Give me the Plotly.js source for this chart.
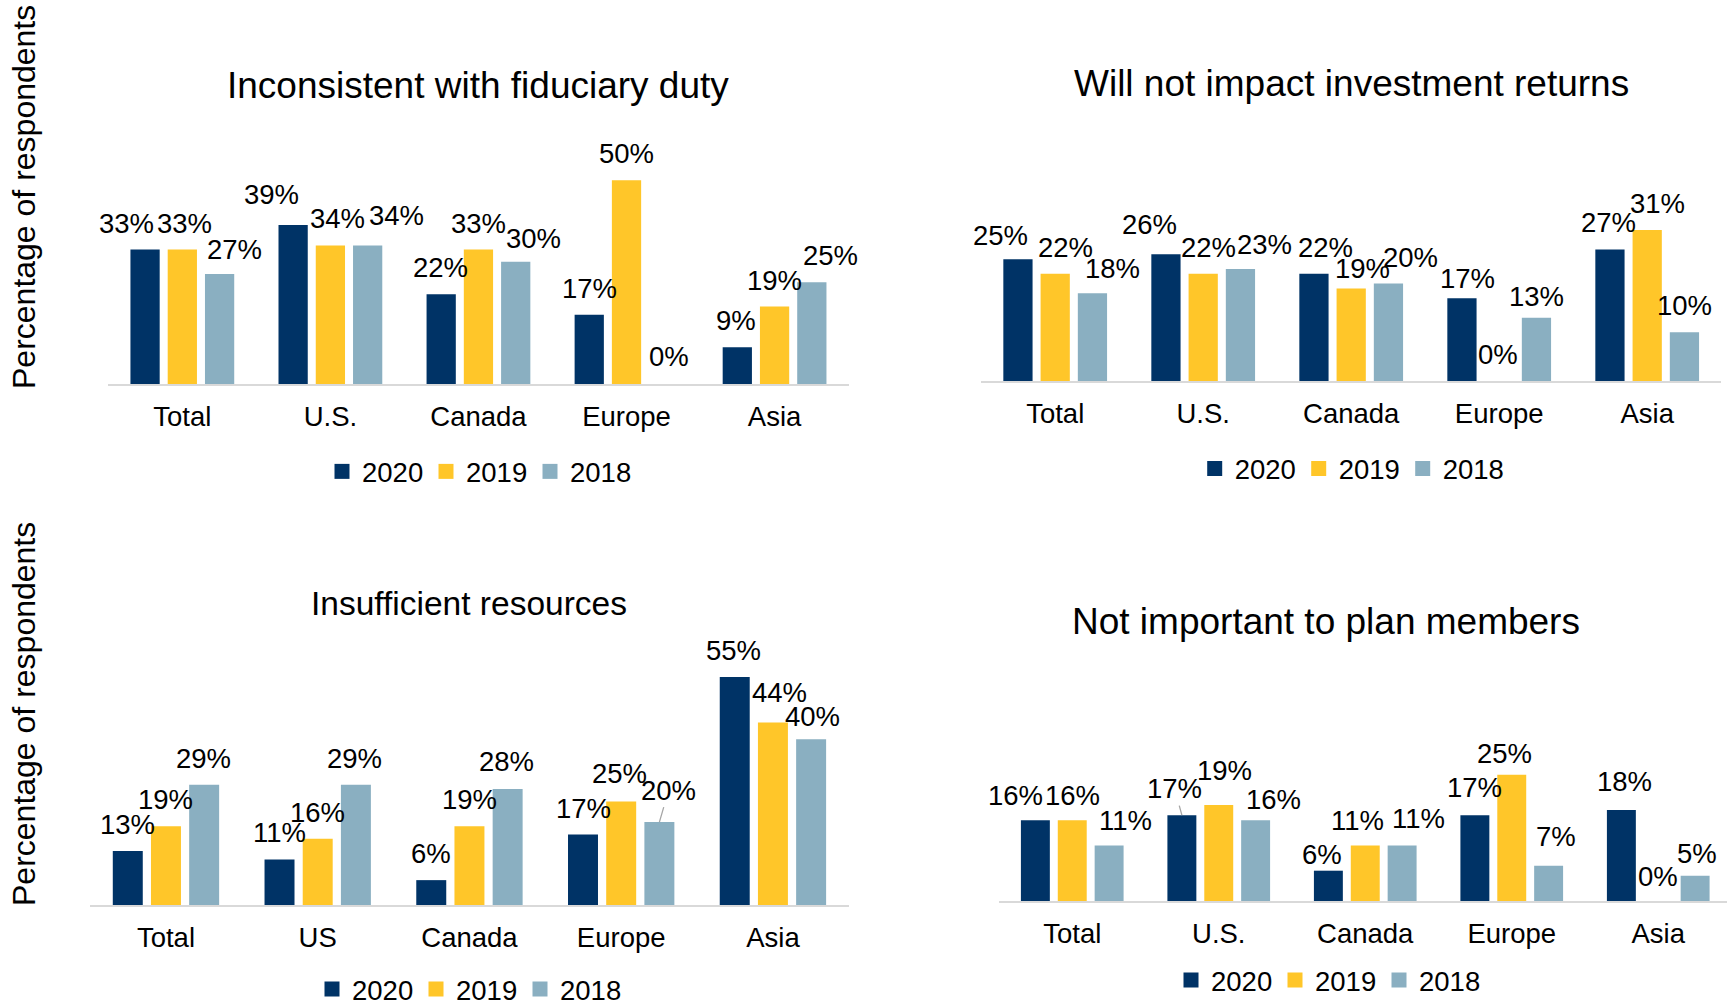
<!DOCTYPE html>
<html>
<head>
<meta charset="utf-8">
<script src="https://cdn.plot.ly/plotly-3.0.1.min.js"></script>
<style>
  html, body { margin: 0; padding: 0; background: #ffffff; }
  #chart { width: 1727px; height: 1006px; }
</style>
</head>
<body>
<div id="chart"></div>
<script>
// ---------------- DATA ----------------
const seriesNames = ['2020', '2019', '2018'];

const titleFiduciary = 'Inconsistent with fiduciary duty';
const catsFiduciary = ['Total', 'U.S.', 'Canada', 'Europe', 'Asia'];
const fiduciary2020 = [33, 39, 22, 17, 9];
const fiduciary2019 = [33, 34, 33, 50, 19];
const fiduciary2018 = [27, 34, 30, 0, 25];

const titleReturns = 'Will not impact investment returns';
const catsReturns = ['Total', 'U.S.', 'Canada', 'Europe', 'Asia'];
const returns2020 = [25, 26, 22, 17, 27];
const returns2019 = [22, 22, 19, 0, 31];
const returns2018 = [18, 23, 20, 13, 10];

const titleResources = 'Insufficient resources';
const catsResources = ['Total', 'US', 'Canada', 'Europe', 'Asia'];
const resources2020 = [13, 11, 6, 17, 55];
const resources2019 = [19, 16, 19, 25, 44];
const resources2018 = [29, 29, 28, 20, 40];

const titleMembers = 'Not important to plan members';
const catsMembers = ['Total', 'U.S.', 'Canada', 'Europe', 'Asia'];
const members2020 = [16, 17, 6, 17, 18];
const members2019 = [16, 19, 11, 25, 0];
const members2018 = [11, 16, 11, 7, 5];

const yAxisTitle = 'Percentage of respondents';

// ---------------- STYLE / LAYOUT ----------------
const seriesColors = ['#003366', '#FFC629', '#8AAFC1'];
const W = 1727, H = 1006;
const BARGAP = 0.245, GROUPGAP = 0.215;
const FONT = 'Arial, "Liberation Sans", Helvetica, sans-serif';
const TXT = 27.5;
const LABEL_DY = 26.5;

// label nudges in pixels [dx, extra dy up] per series (2020, 2019, 2018) per category
const nudgeFiduciary = [
  [[-19, 0], [-22, 4], [-1, 0], [0, 0], [-1, 0]],
  [[2, 0], [7.5, 0], [0, 0], [0, 0], [0, 0]],
  [[15, -2.5], [29, 3.5], [18, -3.5], [5, 1], [19, 0]]
];
const nudgeReturns = [
  [[-17.5, -3], [-16, 3], [11.5, 0], [6, -6.5], [-1.5, 0]],
  [[10, 0], [5.5, 0], [11, -6.5], [-1, 0], [10, 0]],
  [[20, -2], [24, -2], [22.5, 0], [0, -5.5], [0, 0]]
];
const nudgeResources = [
  [[0, 0], [0, 0], [0, 0], [0, 0], [-1, 0]],
  [[0, 0], [0, 0], [0, 0], [-2, 1], [6.5, 3.5]],
  [[-1, 0], [-1.5, 0], [-1, 1], [9.3, 5.5], [1, -4]]
];
const nudgeMembers = [
  [[-19.5, -1.5], [-7.3, 0], [-6, -10], [0, 1], [3, 2]],
  [[0, -1.5], [5.7, 8.5], [-7.5, -2], [-7.3, -5], [0, -2]],
  [[16.5, -2], [18.3, -5.5], [16.7, 0], [7, 2.5], [1.5, -4]]
];

const panels = [
  { cats: catsFiduciary, vals: [fiduciary2020, fiduciary2019, fiduciary2018],
    title: titleFiduciary, titleSize: 37, titleXY: [478, 85],
    xPx: [108.3, 848.6], yPx: [140, 384], ppu: 4.075, xRange: [-0.5, 4.5],
    legendLeft: 322, legendY: 471.5, yTitleXY: [24, 197],
    nudge: nudgeFiduciary, leaders: [] },
  { cats: catsReturns, vals: [returns2020, returns2019, returns2018],
    title: titleReturns, titleSize: 37, titleXY: [1351, 84],
    xPx: [981.2, 1721.2], yPx: [140, 381], ppu: 4.875, xRange: [-0.5, 4.5],
    legendLeft: 1194.7, legendY: 468.5, yTitleXY: null,
    nudge: nudgeReturns, leaders: [] },
  { cats: catsResources, vals: [resources2020, resources2019, resources2018],
    title: titleResources, titleSize: 33.5, titleXY: [468.6, 603.6],
    xPx: [90.1, 848.8], yPx: [640, 905], ppu: 4.145, xRange: [-0.5, 4.5],
    legendLeft: 312, legendY: 989, yTitleXY: [24, 714],
    nudge: nudgeResources, leaders: [[2, 3]] },
  { cats: catsMembers, vals: [members2020, members2019, members2018],
    title: titleMembers, titleSize: 37, titleXY: [1325.6, 621],
    xPx: [999, 1727], yPx: [700, 901], ppu: 5.05, xRange: [-0.5, -0.5 + (1727 - 999) / 146.5],
    legendLeft: 1171, legendY: 980, yTitleXY: null,
    nudge: nudgeMembers, leaders: [[0, 1]] }
];

const traces = [];
const annotations = [];
const layout = {
  width: W, height: H,
  margin: { l: 0, r: 0, t: 0, b: 0, autoexpand: false },
  paper_bgcolor: '#ffffff', plot_bgcolor: 'rgba(0,0,0,0)',
  barmode: 'group', bargap: BARGAP, bargroupgap: GROUPGAP,
  font: { family: FONT, size: TXT, color: '#000000' },
  showlegend: true,
  hovermode: false
};

panels.forEach((p, k) => {
  const sfx = k === 0 ? '' : String(k + 1);
  const legName = k === 0 ? 'legend' : 'legend' + (k + 1);
  p.vals.forEach((v, s) => {
    traces.push({
      type: 'bar', x: p.cats, y: v, name: seriesNames[s],
      xaxis: 'x' + sfx, yaxis: 'y' + sfx, legend: legName, showlegend: false,
      marker: { color: seriesColors[s], line: { width: 0 } },
      hoverinfo: 'skip', cliponaxis: false
    });
    v.forEach((val, i) => {
      const nd = p.nudge[s][i];
      const dy = LABEL_DY + nd[1];
      const xpos = i + (s - 1) * (1 - BARGAP) / 3;
      const a = {
        xref: 'x' + sfx, yref: 'y' + sfx, x: xpos, y: val,
        text: val + '%', font: { family: FONT, size: TXT, color: '#000000' }
      };
      const isLeader = p.leaders.some(l => l[0] === s && l[1] === i);
      if (isLeader) {
        Object.assign(a, { showarrow: true, ax: nd[0], ay: -dy, axref: 'pixel', ayref: 'pixel',
          arrowhead: 0, arrowwidth: 1.3, arrowcolor: '#a6a6a6', standoff: 0, startstandoff: 0 });
      } else {
        Object.assign(a, { showarrow: false, xanchor: 'center', yanchor: 'middle',
          xshift: nd[0], yshift: dy });
      }
      annotations.push(a);
    });
  });
  // legend entries (square swatches) for the three series of this panel
  p.vals.forEach((v, s) => {
    traces.push({
      type: 'scatter', mode: 'markers', x: [null], y: [null], name: seriesNames[s],
      xaxis: 'x' + sfx, yaxis: 'y' + sfx, legend: legName, showlegend: true,
      marker: { symbol: 'square', size: 15, color: seriesColors[s], line: { width: 0 } },
      hoverinfo: 'skip'
    });
  });

  layout['xaxis' + sfx] = {
    type: 'category', domain: [p.xPx[0] / W, p.xPx[1] / W], range: p.xRange,
    anchor: 'y' + sfx, showline: true, linecolor: '#d9d9d9', linewidth: 2,
    ticks: '', showgrid: false, zeroline: false, fixedrange: true,
    ticklabelstandoff: 7,
    tickfont: { family: FONT, size: TXT, color: '#000000' }
  };
  layout['yaxis' + sfx] = {
    domain: [1 - p.yPx[1] / H, 1 - p.yPx[0] / H],
    range: [0, (p.yPx[1] - p.yPx[0]) / p.ppu],
    anchor: 'x' + sfx, visible: false, showgrid: false, zeroline: false, fixedrange: true
  };
  layout[legName] = {
    orientation: 'h', x: p.legendLeft / W, xanchor: 'left',
    y: 1 - p.legendY / H, yanchor: 'middle',
    bgcolor: 'rgba(0,0,0,0)', borderwidth: 0,
    entrywidth: 59, entrywidthmode: 'pixels',
    font: { family: FONT, size: TXT, color: '#000000' },
    traceorder: 'normal'
  };

  annotations.push({
    xref: 'paper', yref: 'paper', x: p.titleXY[0] / W, y: 1 - p.titleXY[1] / H,
    xanchor: 'center', yanchor: 'middle', showarrow: false,
    text: p.title, font: { family: FONT, size: p.titleSize, color: '#000000' }
  });
  if (p.yTitleXY) {
    annotations.push({
      xref: 'paper', yref: 'paper', x: p.yTitleXY[0] / W, y: 1 - p.yTitleXY[1] / H,
      xanchor: 'center', yanchor: 'middle', showarrow: false, textangle: -90,
      text: yAxisTitle, font: { family: FONT, size: 32, color: '#000000' }
    });
  }
});

layout.annotations = annotations;

Plotly.newPlot('chart', traces, layout, { staticPlot: true, displayModeBar: false });
</script>
</body>
</html>
